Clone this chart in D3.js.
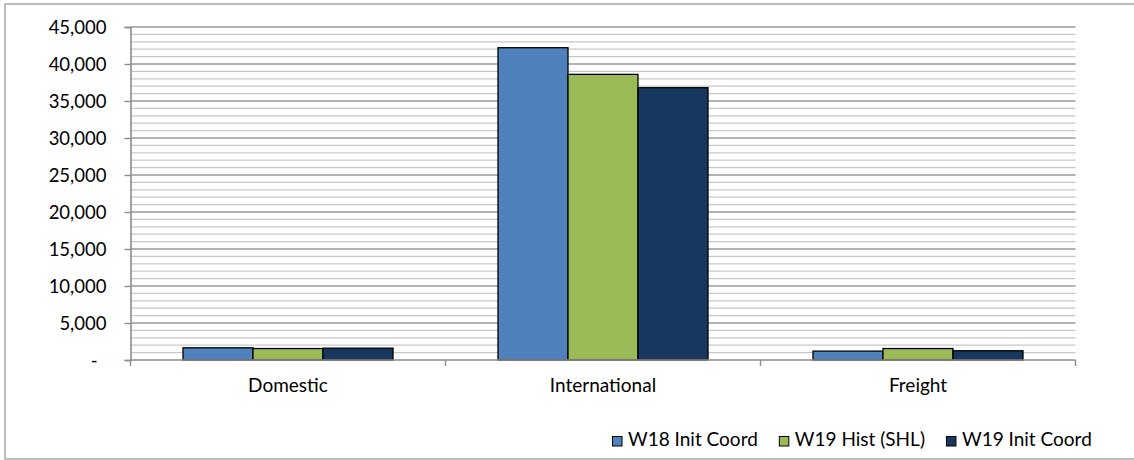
<!DOCTYPE html>
<html>
<head>
<meta charset="utf-8">
<script src="https://cdn.jsdelivr.net/npm/d3@7"></script>
<style>
  html, body { margin: 0; padding: 0; background: #fff; }
  svg { display: block; font-family: Lato, "Open Sans", sans-serif; }
</style>
</head>
<body>
<svg id="chart" width="1134" height="460"></svg>
<script>
const categories = ["Domestic", "International", "Freight"];
const seriesNames = ["W18 Init Coord", "W19 Hist (SHL)", "W19 Init Coord"];
const w18InitCoord = [1650, 42200, 1200];
const w19HistSHL   = [1550, 38600, 1550];
const w19InitCoord = [1600, 36800, 1250];
const seriesColors = ["#4f81bd", "#9bbb59", "#17375e"];
const yTickValues = [0, 5000, 10000, 15000, 20000, 25000, 30000, 35000, 40000, 45000];

const seriesValues = [w18InitCoord, w19HistSHL, w19InitCoord];

const svg = d3.select("#chart");
const FS = 18.5;
const FS2 = 19;

// outer chart border
svg.append("rect").attr("x", 5).attr("y", 4).attr("width", 1140).attr("height", 455)
  .attr("fill", "#fff").attr("stroke", "#a6a6a6").attr("stroke-width", 1.5);

const plotL = 130.5, plotR = 1075.5, plotT = 27, plotB = 360;

const y = d3.scaleLinear().domain([0, 45000]).range([plotB, plotT]);
const x0 = d3.scaleBand().domain(categories).range([plotL, plotR]).paddingInner(0).paddingOuter(0);
const x1 = d3.scaleBand().domain(seriesNames)
  .range([x0.bandwidth() * 52.5 / 315, x0.bandwidth() * 262.5 / 315]).padding(0);

// minor gridlines
const minorTicks = d3.range(1000, 45001, 1000).filter(v => v % 5000 !== 0);
svg.append("g").selectAll("line").data(minorTicks).join("line")
  .attr("x1", plotL).attr("x2", plotR)
  .attr("y1", d => y(d)).attr("y2", d => y(d))
  .attr("stroke", "#c8c8c8").attr("stroke-width", 1.2);

// major gridlines
svg.append("g").selectAll("line").data(yTickValues.filter(v => v > 0)).join("line")
  .attr("x1", plotL).attr("x2", plotR)
  .attr("y1", d => y(d)).attr("y2", d => y(d))
  .attr("stroke", "#999").attr("stroke-width", 1.4);

// bars
const groups = svg.append("g").selectAll("g").data(categories).join("g")
  .attr("transform", d => `translate(${x0(d)},0)`);
groups.selectAll("rect")
  .data((c, ci) => seriesNames.map((s, si) => ({ s, si, v: seriesValues[si][ci] })))
  .join("rect")
  .attr("x", d => x1(d.s))
  .attr("width", x1.bandwidth())
  .attr("y", d => y(d.v))
  .attr("height", d => y(0) - y(d.v))
  .attr("fill", d => seriesColors[d.si])
  .attr("stroke", "#000").attr("stroke-width", 1.3);

// y axis
const yAxis = d3.axisLeft(y).tickValues(yTickValues).tickSize(6).tickPadding(18)
  .tickFormat(d => d === 0 ? "-" : d3.format(",")(d));
const yg = svg.append("g").attr("transform", `translate(${plotL},0)`).call(yAxis);
yg.select(".domain").attr("stroke", "#8c8c8c").attr("stroke-width", 1.6);
yg.selectAll(".tick line").attr("stroke", "#8c8c8c").attr("stroke-width", 1.4);
yg.selectAll(".tick text").attr("font-size", FS).attr("fill", "#000")
  .attr("font-family", "Lato, sans-serif")
  .attr("dx", d => d === 0 ? -9 : 0).attr("dy", "0.36em");

// x axis
const xg = svg.append("g").attr("transform", `translate(0,${plotB})`);
xg.append("line").attr("x1", plotL).attr("x2", plotR).attr("y1", 0).attr("y2", 0)
  .attr("stroke", "#8c8c8c").attr("stroke-width", 1.6);
const bounds = categories.map(c => x0(c)).concat([x0(categories[categories.length - 1]) + x0.bandwidth()]);
xg.selectAll("line.tk").data(bounds).join("line").attr("class", "tk")
  .attr("x1", d => d).attr("x2", d => d).attr("y1", 0).attr("y2", 6)
  .attr("stroke", "#8c8c8c").attr("stroke-width", 1.4);
xg.selectAll("text").data(categories).join("text")
  .attr("x", d => x0(d) + x0.bandwidth() / 2).attr("y", 32)
  .attr("text-anchor", "middle").attr("font-size", FS2).attr("fill", "#000")
  .text(d => d);

// legend
const lg = svg.append("g");
let lx = 612;
seriesNames.forEach((s, i) => {
  lg.append("rect").attr("x", lx + 0.5).attr("y", 436.5).attr("width", 9.5).attr("height", 9.5)
    .attr("fill", seriesColors[i]).attr("stroke", "#000").attr("stroke-width", 1);
  const t = lg.append("text").attr("x", lx + 16).attr("y", 446)
    .attr("font-size", FS2).attr("fill", "#000").text(s);
  lx = lx + 16 + t.node().getComputedTextLength() + 21;
});
</script>
</body>
</html>
